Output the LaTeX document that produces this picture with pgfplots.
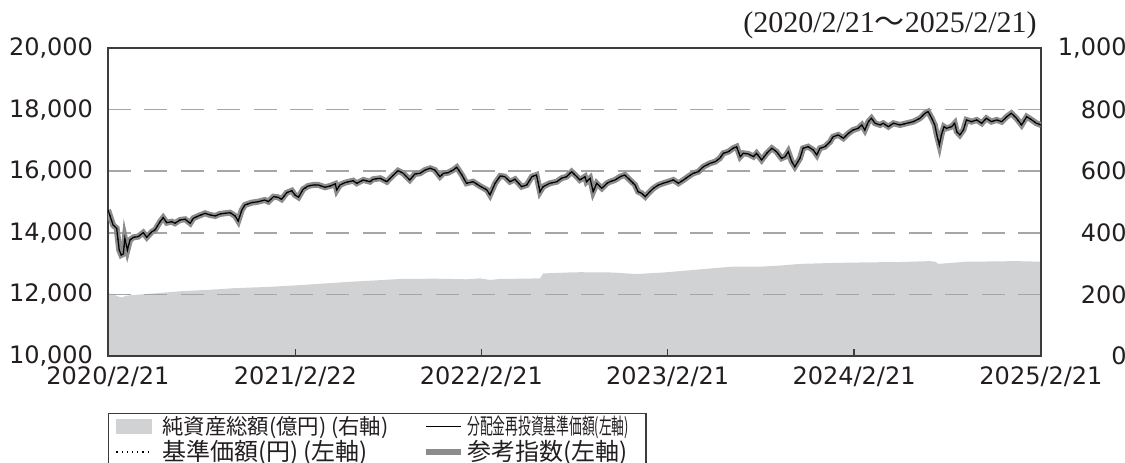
\documentclass[border=0pt]{standalone}
\usepackage{fontspec}
\usepackage{pgfplots}
\usepackage{pgfplotstable}
\pgfplotsset{compat=1.18}
\setmainfont{DejaVu Sans}
\newfontfamily\cjk{Noto Sans CJK JP}
\newfontfamily\serif{Liberation Serif}

\definecolor{areagray}{RGB}{209,210,212}
\definecolor{idxgray}{RGB}{140,140,140}
\definecolor{gridcol}{RGB}{166,166,166}
\definecolor{framecol}{RGB}{60,60,60}
\definecolor{txt}{RGB}{35,31,32}

% day index from 2020/2/21, value in yen
\pgfplotstableread{
d v
0 14740
10 14253
17 14146
22 13442
26 13279
30 13312
33 13822
38 13442
43 13767
50 13854
59 13874
69 14004
76 13854
86 14036
92 14091
102 14361
108 14491
115 14328
125 14361
131 14309
141 14416
151 14439
161 14309
167 14471
177 14546
190 14633
200 14578
210 14546
219 14611
229 14633
239 14653
249 14546
255 14383
262 14740
268 14903
281 14978
294 15010
307 15065
314 15010
324 15172
333 15153
340 15088
350 15302
360 15367
366 15228
373 15153
382 15413
392 15520
402 15552
412 15552
425 15478
435 15520
445 15585
448 15390
454 15552
464 15627
480 15692
487 15607
500 15715
513 15659
519 15737
533 15770
546 15659
559 15877
568 16017
578 15932
591 15715
601 15910
611 15932
621 16039
631 16095
640 16039
650 15822
657 15932
666 15952
676 16039
683 16127
693 15877
702 15607
715 15659
728 15520
742 15390
748 15228
758 15607
768 15845
777 15822
787 15659
797 15737
810 15497
820 15552
830 15822
839 15877
846 15335
852 15497
865 15607
879 15659
888 15770
898 15822
908 15984
918 15822
924 15715
934 15822
937 15659
944 15770
950 15335
957 15607
967 15445
977 15607
983 15659
993 15715
1003 15822
1012 15877
1022 15715
1032 15552
1038 15335
1045 15283
1052 15172
1058 15283
1068 15445
1078 15552
1087 15607
1097 15659
1107 15715
1117 15607
1127 15715
1136 15822
1146 15932
1156 15984
1166 16147
1179 16257
1189 16309
1198 16419
1205 16582
1215 16634
1224 16744
1231 16796
1238 16471
1244 16582
1254 16559
1264 16471
1270 16582
1280 16364
1290 16582
1300 16744
1309 16634
1319 16419
1326 16471
1332 16634
1339 16309
1345 16147
1355 16419
1361 16744
1371 16796
1381 16689
1388 16526
1394 16744
1404 16796
1414 16958
1420 17121
1430 17176
1440 17069
1450 17231
1459 17338
1469 17393
1476 17501
1482 17338
1489 17608
1495 17718
1502 17556
1512 17501
1518 17556
1528 17445
1538 17556
1551 17501
1564 17556
1577 17608
1590 17718
1600 17881
1606 17932
1613 17718
1619 17501
1623 17176
1628 16851
1632 17176
1637 17445
1642 17393
1652 17445
1658 17556
1662 17283
1668 17176
1675 17338
1681 17663
1691 17608
1701 17663
1711 17556
1720 17718
1730 17608
1740 17663
1750 17608
1760 17770
1769 17881
1779 17718
1789 17501
1799 17770
1809 17663
1818 17556
1827 17501
}\navdata

% net assets, 100 million yen
\pgfplotstableread{
d v
0 204
10 200
20 193
27 190
37 196
50 198
90 203
141 210
200 215
245 220
310 224
376 230
430 236
474 241
520 245
572 250
640 251
702 249
728 252
748 247
767 250
810 251
846 252
852 268
900 271
924 272
989 271
1035 266
1087 271
1130 277
1159 281
1185 285
1224 290
1277 290
1320 294
1355 299
1420 302
1486 304
1550 305
1590 307
1609 308
1620 306
1626 299
1649 302
1681 306
1730 307
1779 308
1827 306
}\nadata

\begin{document}
\begin{tikzpicture}
% right axis: net assets
\begin{axis}[
    width=466.5pt, height=154pt, scale only axis,
    xmin=0, xmax=1827, ymin=0, ymax=1000,
    axis x line=none,
    axis y line*=right,
    axis line style={framecol, line width=0.75pt},
    ytick={0,200,400,600,800,1000},
    ytick style={draw=none},
    scaled y ticks=false,
    /pgf/number format/assume math mode=true,
    yticklabel style={font=\fontsize{12}{14}\selectfont, text=txt,
        anchor=east, inner sep=0pt, xshift=43pt},
]
\addplot[fill=areagray, draw=none] table[x=d, y=v] {\nadata} \closedcycle;
\end{axis}

% left axis: NAV
\begin{axis}[
    width=466.5pt, height=154pt, scale only axis,
    xmin=0, xmax=1827, ymin=10000, ymax=20000,
    axis line style={framecol, line width=0.75pt},
    ytick={10000,12000,...,20000},
    ytick style={draw=none},
    ytick pos=left,
    scaled y ticks=false,
    ymajorgrids,
    grid style={gridcol, line width=0.8pt, dash pattern=on 11.5pt off 6.7pt},
    xtick={0,367,731,1096,1461,1827},
    xticklabels={2020/2/21,2021/2/22,2022/2/21,2023/2/21,2024/2/21,2025/2/21},
    xtick pos=bottom,
    tick align=inside,
    major tick length=3.5pt,
    xtick style={framecol, line width=0.75pt},
    /pgf/number format/assume math mode=true,
    yticklabel style={font=\fontsize{12}{14}\selectfont, text=txt,
        inner sep=0pt, xshift=-7.3pt},
    xticklabel style={font=\fontsize{12}{14}\selectfont, text=txt,
        inner sep=0pt, yshift=-5pt},
    legend columns=2,
    legend cell align=left,
    legend style={at={(0,-0.185)}, anchor=north west,
        draw=framecol, line width=0.75pt, font=\cjk, text=txt,
        inner xsep=3.5pt, inner ysep=1pt, row sep=1.5pt,
        nodes={inner ysep=0pt, inner xsep=5pt},
        /tikz/every even column/.append style={column sep=5.5pt}},
]
\addplot[idxgray, line width=3pt, forget plot] table[x=d, y=v] {\navdata};
\addplot[black, dotted, line width=0.6pt, forget plot] table[x=d, y=v] {\navdata};
\addplot[black, line width=0.6pt, forget plot] table[x=d, y=v] {\navdata};

\addlegendimage{legend image code/.code={\fill[areagray] (0pt,-3.5pt) rectangle (17.5pt,3.5pt);}}
\addlegendentry{\makebox[120pt][l]{\fontsize{10.7}{12}\selectfont 純資産総額(億円) (右軸)}}
\addlegendimage{legend image code/.code={\draw[black, line width=0.6pt] (0pt,0pt) -- (17.5pt,0pt);}}
\addlegendentry{\hspace*{-3.5pt}\scalebox{0.58}[1]{\fontsize{11}{12}\selectfont 分配金再投資基準価額(左軸)}}
\addlegendimage{legend image code/.code={\draw[black, dotted, line width=0.6pt] (0pt,0pt) -- (17.5pt,0pt);}}
\addlegendentry{\makebox[120pt][l]{\fontsize{12}{13}\selectfont 基準価額(円) (左軸)}}
\addlegendimage{legend image code/.code={\draw[idxgray, line width=3pt] (0pt,0pt) -- (17.5pt,0pt);}}
\addlegendentry{\hspace*{-3.5pt}\fontsize{12}{13}\selectfont 参考指数(左軸)}

\coordinate (SW) at (rel axis cs:0,0);
\coordinate (NE) at (rel axis cs:1,1);
\end{axis}
\node[anchor=base east, font=\serif\fontsize{15}{17}\selectfont, text=txt,
    inner sep=0pt] at ([shift={(-2pt,7.5pt)}]NE)
    {(2020/2/21{\cjk ～}2025/2/21)};
\pgfresetboundingbox
\path[use as bounding box] ([shift={(-54pt,-53.5pt)}]SW) rectangle ([shift={(42pt,24pt)}]NE);
\end{tikzpicture}
\end{document}
